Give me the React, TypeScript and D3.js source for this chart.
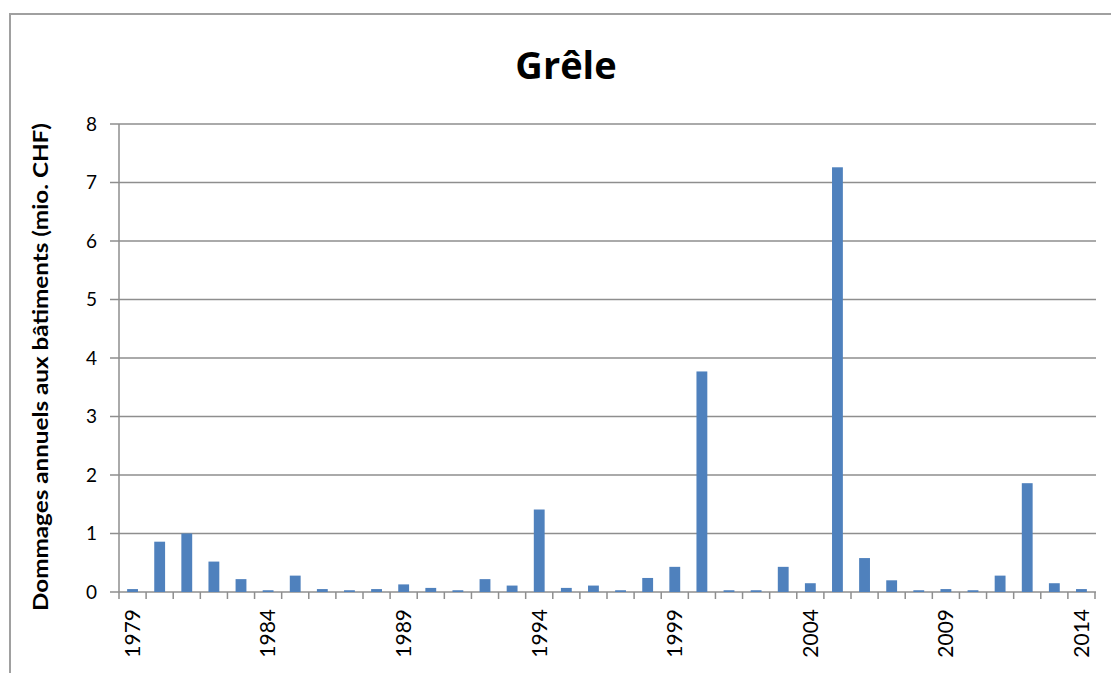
import * as d3 from 'd3';
import { useEffect, useRef } from 'react';

const years: string[] = [
  '1979', '1980', '1981', '1982', '1983', '1984', '1985', '1986', '1987', '1988',
  '1989', '1990', '1991', '1992', '1993', '1994', '1995', '1996', '1997', '1998',
  '1999', '2000', '2001', '2002', '2003', '2004', '2005', '2006', '2007', '2008',
  '2009', '2010', '2011', '2012', '2013', '2014',
];

// dommages annuels (mio. CHF)
const damages: number[] = [
  0.05, 0.86, 1.0, 0.52, 0.22, 0.03, 0.28, 0.05, 0.03, 0.05,
  0.13, 0.07, 0.03, 0.22, 0.11, 1.41, 0.07, 0.11, 0.03, 0.24,
  0.43, 3.77, 0.03, 0.03, 0.43, 0.15, 7.26, 0.58, 0.2, 0.03,
  0.05, 0.03, 0.28, 1.86, 0.15, 0.05,
];

const yTicks: number[] = [0, 1, 2, 3, 4, 5, 6, 7, 8];
const labelledYears: string[] = ['1979', '1984', '1989', '1994', '1999', '2004', '2009', '2014'];

const W = 1111;
const H = 673;
const FONT = 'Lato, "Open Sans", sans-serif';

const App = () => {
  const ref = useRef<SVGSVGElement | null>(null);

  useEffect(() => {
    if (!ref.current) return;
    const svg = d3.select(ref.current);
    svg.selectAll('*').remove();

    const left = 119, right = 1095, top = 124, bottom = 592;

    // cadre du graphique
    svg.append('rect')
      .attr('x', 10).attr('y', 14)
      .attr('width', W + 20).attr('height', H + 20)
      .attr('fill', 'white')
      .attr('stroke', '#a0a0a0')
      .attr('stroke-width', 2);

    const x = d3.scaleBand<string>()
      .domain(years)
      .range([left, right])
      .paddingInner(0.6)
      .paddingOuter(0.3);

    const y = d3.scaleLinear().domain([0, 8]).range([bottom, top]);

    // lignes de grille + graduations Y
    svg.append('g').selectAll('line')
      .data(yTicks)
      .enter().append('line')
      .attr('x1', left - 9)
      .attr('x2', right + 1)
      .attr('y1', d => y(d))
      .attr('y2', d => y(d))
      .attr('stroke', '#8e8e8e')
      .attr('stroke-width', 1.5);

    svg.append('g').selectAll('text')
      .data(yTicks)
      .enter().append('text')
      .attr('x', 97)
      .attr('y', d => y(d))
      .attr('dy', '0.35em')
      .style('text-anchor', 'end')
      .style('font-family', FONT)
      .style('font-size', '19px')
      .style('fill', '#000')
      .text(d => d);

    // barres
    svg.append('g').selectAll('rect')
      .data(years.map((yr, i) => ({ yr, v: damages[i] })))
      .enter().append('rect')
      .attr('x', d => x(d.yr) ?? 0)
      .attr('y', d => y(d.v))
      .attr('width', x.bandwidth())
      .attr('height', d => bottom - y(d.v))
      .attr('fill', '#4f81bd');

    // axe Y
    svg.append('line')
      .attr('x1', left).attr('x2', left)
      .attr('y1', top).attr('y2', bottom)
      .attr('stroke', '#8e8e8e')
      .attr('stroke-width', 1.5);

    // graduations X (limites des catégories)
    const step = x.step();
    const bounds = d3.range(years.length + 1).map(i => left + i * step);
    svg.append('g').selectAll('line')
      .data(bounds)
      .enter().append('line')
      .attr('x1', d => d).attr('x2', d => d)
      .attr('y1', bottom).attr('y2', bottom + 7)
      .attr('stroke', '#8e8e8e')
      .attr('stroke-width', 1.5);

    svg.append('g').selectAll('text')
      .data(labelledYears)
      .enter().append('text')
      .attr('transform', d => `translate(${(x(d) ?? 0) + x.bandwidth() / 2},${bottom + 17}) rotate(-90)`)
      .attr('dy', '0.35em')
      .style('text-anchor', 'end')
      .style('font-family', FONT)
      .style('font-size', '21px')
      .style('fill', '#000')
      .text(d => d);

    // titres
    svg.append('text')
      .attr('x', 566)
      .attr('y', 79)
      .style('text-anchor', 'middle')
      .style('font-family', '"Open Sans", sans-serif')
      .style('font-weight', 'bold')
      .style('font-size', '38px')
      .text('Grêle');

    svg.append('text')
      .attr('transform', `translate(41,367) rotate(-90)`)
      .attr('dy', '0.35em')
      .attr('textLength', 488)
      .attr('lengthAdjust', 'spacingAndGlyphs')
      .style('text-anchor', 'middle')
      .style('font-family', FONT)
      .style('font-weight', 'bold')
      .style('font-size', '20px')
      .text('Dommages annuels aux bâtiments (mio. CHF)');
  }, []);

  return (
    <div style={{ position: 'fixed', left: 0, top: 0 }}>
      <svg ref={ref} width={W} height={H} style={{ display: 'block' }} />
    </div>
  );
};

export default App;
